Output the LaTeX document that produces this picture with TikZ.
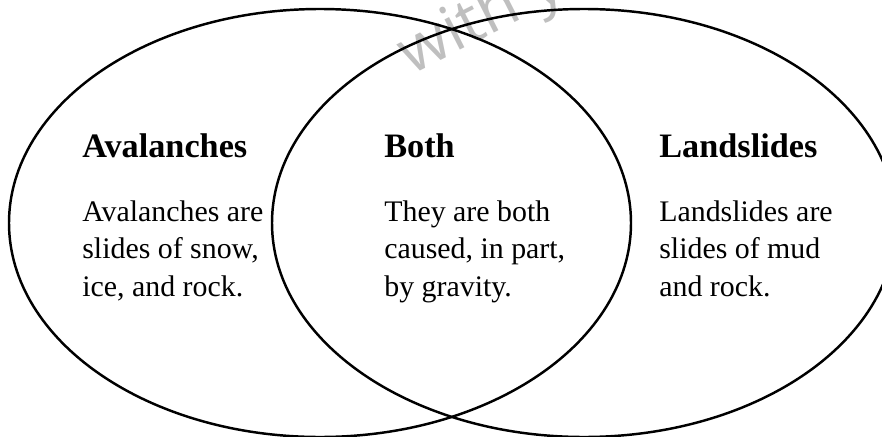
\documentclass[tikz,border=0pt]{standalone}
\usepackage{fontspec}
\setmainfont{Liberation Serif}
\newfontfamily\markfont{Open Sans}

\begin{document}
\begin{tikzpicture}[
    x=0.02cm, y=-0.02cm,
    circ/.style={line width=1.4pt},
    title/.style={anchor=base west, inner sep=0pt, font=\fontsize{19.5}{22}\selectfont\bfseries},
    body/.style={anchor=base west, inner sep=0pt, align=left,
                 font=\fontsize{17}{21.3}\selectfont},
    watermark/.style={text=black!25, font=\markfont\fontsize{36}{40}\selectfont},
]

    \clip (0, 0) rectangle (882, 436);
    \node[watermark, rotate=27, anchor=base west] (wmark) at (406, 78) {with y};

    \draw[circ] (320, 223) ellipse [x radius=311, y radius=214];
    \draw[circ] (584, 223) ellipse [x radius=312, y radius=214];

    % base of a multi-line node is its last line
    \node[title] (avaltitle) at (82, 157) {Avalanches};
    \node[body] (avaltext) at (82, 296) {Avalanches are\\slides of snow,\\ice, and rock.};
    \node[title] (bothtitle) at (384, 157) {Both};
    \node[body] (bothtext) at (384, 296) {They are both\\caused, in part,\\by gravity.};
    \node[title] (landtitle) at (659, 157) {Landslides};
    \node[body] (landtext) at (659, 296) {Landslides are\\slides of mud\\and rock.};
\end{tikzpicture}
\end{document}
